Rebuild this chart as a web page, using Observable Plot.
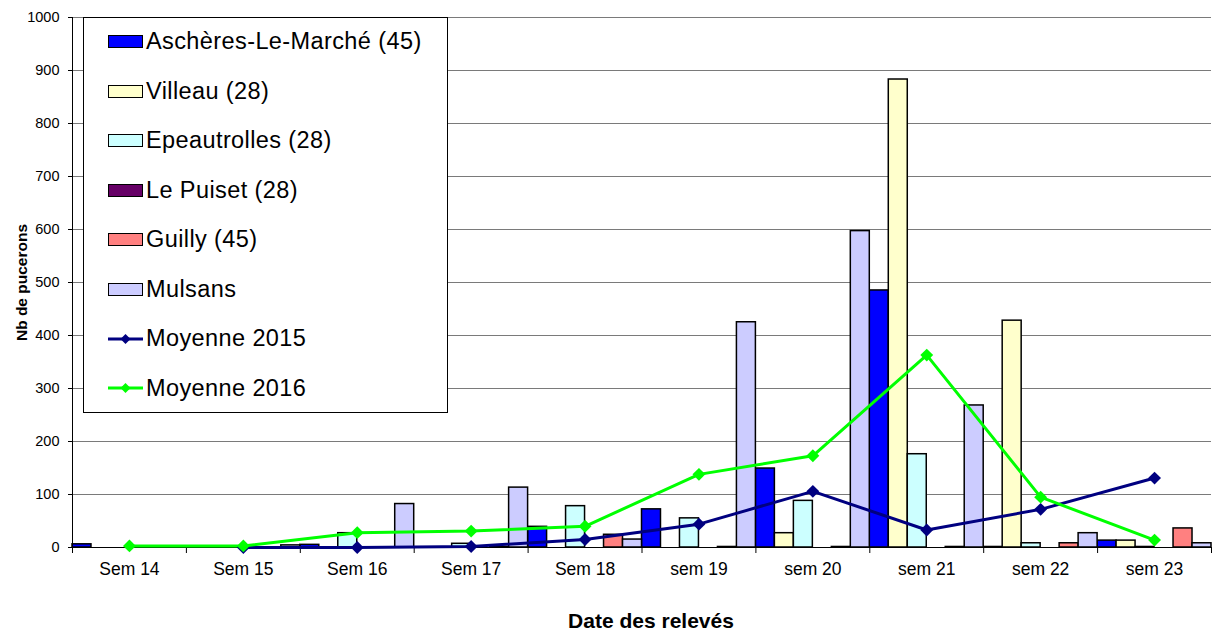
<!DOCTYPE html>
<html><head><meta charset="utf-8">
<script src="https://cdn.jsdelivr.net/npm/d3@7"></script>
<script src="https://cdn.jsdelivr.net/npm/@observablehq/plot@0.6"></script>
<style>
body{margin:0;background:#fff;font-family:"Liberation Sans",Arial,sans-serif;}
#wrap{position:relative;width:1213px;height:637px;overflow:hidden;}
#legend{position:absolute;left:83px;top:17px;width:365px;height:396px;border:1px solid #000;background:#fff;box-sizing:border-box;}
.row{position:absolute;left:24px;height:26px;display:flex;align-items:center;font-size:23.5px;letter-spacing:0.4px;color:#000;white-space:nowrap;}
.sw{width:35px;height:13px;box-sizing:border-box;border:1.5px solid #000;margin-right:3px;}
.lsw{width:35px;height:14px;margin-right:3px;}
</style></head><body><div id="wrap"></div>
<script>
const categories = ["Sem 14","Sem 15","Sem 16","Sem 17","Sem 18","sem 19","sem 20","sem 21","sem 22","sem 23"];
const seriesNames = ["Aschères-Le-Marché (45)","Villeau (28)","Epeautrolles (28)","Le Puiset (28)","Guilly (45)","Mulsans"];
const seriesColors = ["#0000FF","#FFFFCC","#CCFFFF","#660066","#FF8080","#CCCCFF"];
const aschères     = [6, 1, 5, null, 39, 72, 149, 485, 1, 13];
const villeau      = [null, null, null, null, null, null, 27, 883, 428, 13];
const epeautrolles = [null, null, 27, 7, 78, 55, 88, 176, 8, 1];
const lePuiset     = [null, null, null, null, null, null, null, null, null, null];
const guilly       = [null, null, null, 1, 24, 1, 1, 1, 8, 36];
const mulsans      = [null, 4, 82, 113, 15, 425, 597, 268, 27, 8];
const lineNames = ["Moyenne 2015","Moyenne 2016"];
const lineColors = ["#000080","#00FF00"];
const moyenne2015 = [null, 0, 0, 2, 15, 44, 106, 33, 72, 131];
const moyenne2016 = [3, 3, 28, 31, 40, 138, 173, 363, 95, 14];
const yTicks = [0,100,200,300,400,500,600,700,800,900,1000];
const xTitle = "Date des relevés";
const yTitle = "Nb de pucerons";

const barSeries = [aschères, villeau, epeautrolles, lePuiset, guilly, mulsans];
const nS = barSeries.length;
const bars = [];
barSeries.forEach((vals, si) => vals.forEach((v, ci) => {
  if (v != null) bars.push({series: seriesNames[si], si, ci, value: v});
}));
const lines = [moyenne2015, moyenne2016].map((vals, li) =>
  vals.map((v, ci) => ({series: lineNames[li], ci, value: v})));

const chart = Plot.plot({
  width: 1213, height: 637,
  marginLeft: 72, marginRight: 2, marginTop: 17, marginBottom: 90,
  style: {fontFamily: "'Liberation Sans', Arial, sans-serif", background: "#fff", color: "#000"},
  x: {domain: [0, categories.length], label: null},
  y: {domain: [0, 1000], label: null},
  color: {domain: seriesNames, range: seriesColors},
  marks: [
    Plot.ruleY(yTicks.filter(v => v > 0), {stroke: "#7a7a7a", strokeWidth: 1}),
    Plot.axisY({ticks: yTicks, tickFormat: d => String(d), tickSize: 4, tickPadding: 9, fontSize: 14.5, label: null}),
    Plot.axisX({ticks: d3.range(0, categories.length + 1), tickFormat: () => "", tickSize: 6, label: null}),
    Plot.axisX({ticks: categories.map((c, i) => i + 0.5), tickFormat: v => categories[Math.floor(v)], tickSize: 0, tickPadding: 15, fontSize: 17.5, label: null}),
    Plot.rect(bars, {x1: d => d.ci + d.si / nS, x2: d => d.ci + (d.si + 1) / nS, y1: d => 0, y2: "value", fill: "series", stroke: "#000", strokeWidth: 1.5}),
    Plot.ruleY([0], {stroke: "#000", strokeWidth: 1}),
    Plot.ruleX([0], {stroke: "#000", strokeWidth: 1}),
    ...lines.map((ld, li) => Plot.line(ld, {x: d => d.ci + 0.5, y: "value", stroke: lineColors[li], strokeWidth: 3})),
    ...lines.map((ld, li) => Plot.dot(ld.filter(d => d.value != null), {x: d => d.ci + 0.5, y: "value", symbol: "diamond2", r: 5.8, fill: lineColors[li], stroke: "none"})),
    Plot.text([yTitle], {frameAnchor: "left", dx: -50, rotate: -90, textAnchor: "middle", fontWeight: "bold", fontSize: 15.5}),
    Plot.text([xTitle], {frameAnchor: "bottom", dy: 80, dx: 9, textAnchor: "middle", fontWeight: "bold", fontSize: 21})
  ]
});
const wrap = document.getElementById("wrap");
wrap.appendChild(chart);

const legend = document.createElement("div");
legend.id = "legend";
const entries = seriesNames.map((n, i) => ({name: n, color: seriesColors[i], type: "bar"}))
  .concat(lineNames.map((n, i) => ({name: n, color: lineColors[i], type: "line"})));
entries.forEach((e, k) => {
  const row = document.createElement("div");
  row.className = "row";
  row.style.top = (23.5 + 49.5 * k - 13) + "px";
  if (e.type === "bar") {
    const sw = document.createElement("div");
    sw.className = "sw";
    sw.style.background = e.color;
    row.appendChild(sw);
  } else {
    const ns = "http://www.w3.org/2000/svg";
    const svg = document.createElementNS(ns, "svg");
    svg.setAttribute("class", "lsw");
    svg.setAttribute("width", 35); svg.setAttribute("height", 14);
    const ln = document.createElementNS(ns, "line");
    ln.setAttribute("x1", 0); ln.setAttribute("x2", 35); ln.setAttribute("y1", 7); ln.setAttribute("y2", 7);
    ln.setAttribute("stroke", e.color); ln.setAttribute("stroke-width", 3);
    svg.appendChild(ln);
    const dm = document.createElementNS(ns, "path");
    dm.setAttribute("d", "M17.5,2 L22.5,7 L17.5,12 L12.5,7 Z");
    dm.setAttribute("fill", e.color);
    svg.appendChild(dm);
    row.appendChild(svg);
  }
  const t = document.createElement("span");
  t.textContent = e.name;
  row.appendChild(t);
  legend.appendChild(row);
});
wrap.appendChild(legend);
</script></body></html>
